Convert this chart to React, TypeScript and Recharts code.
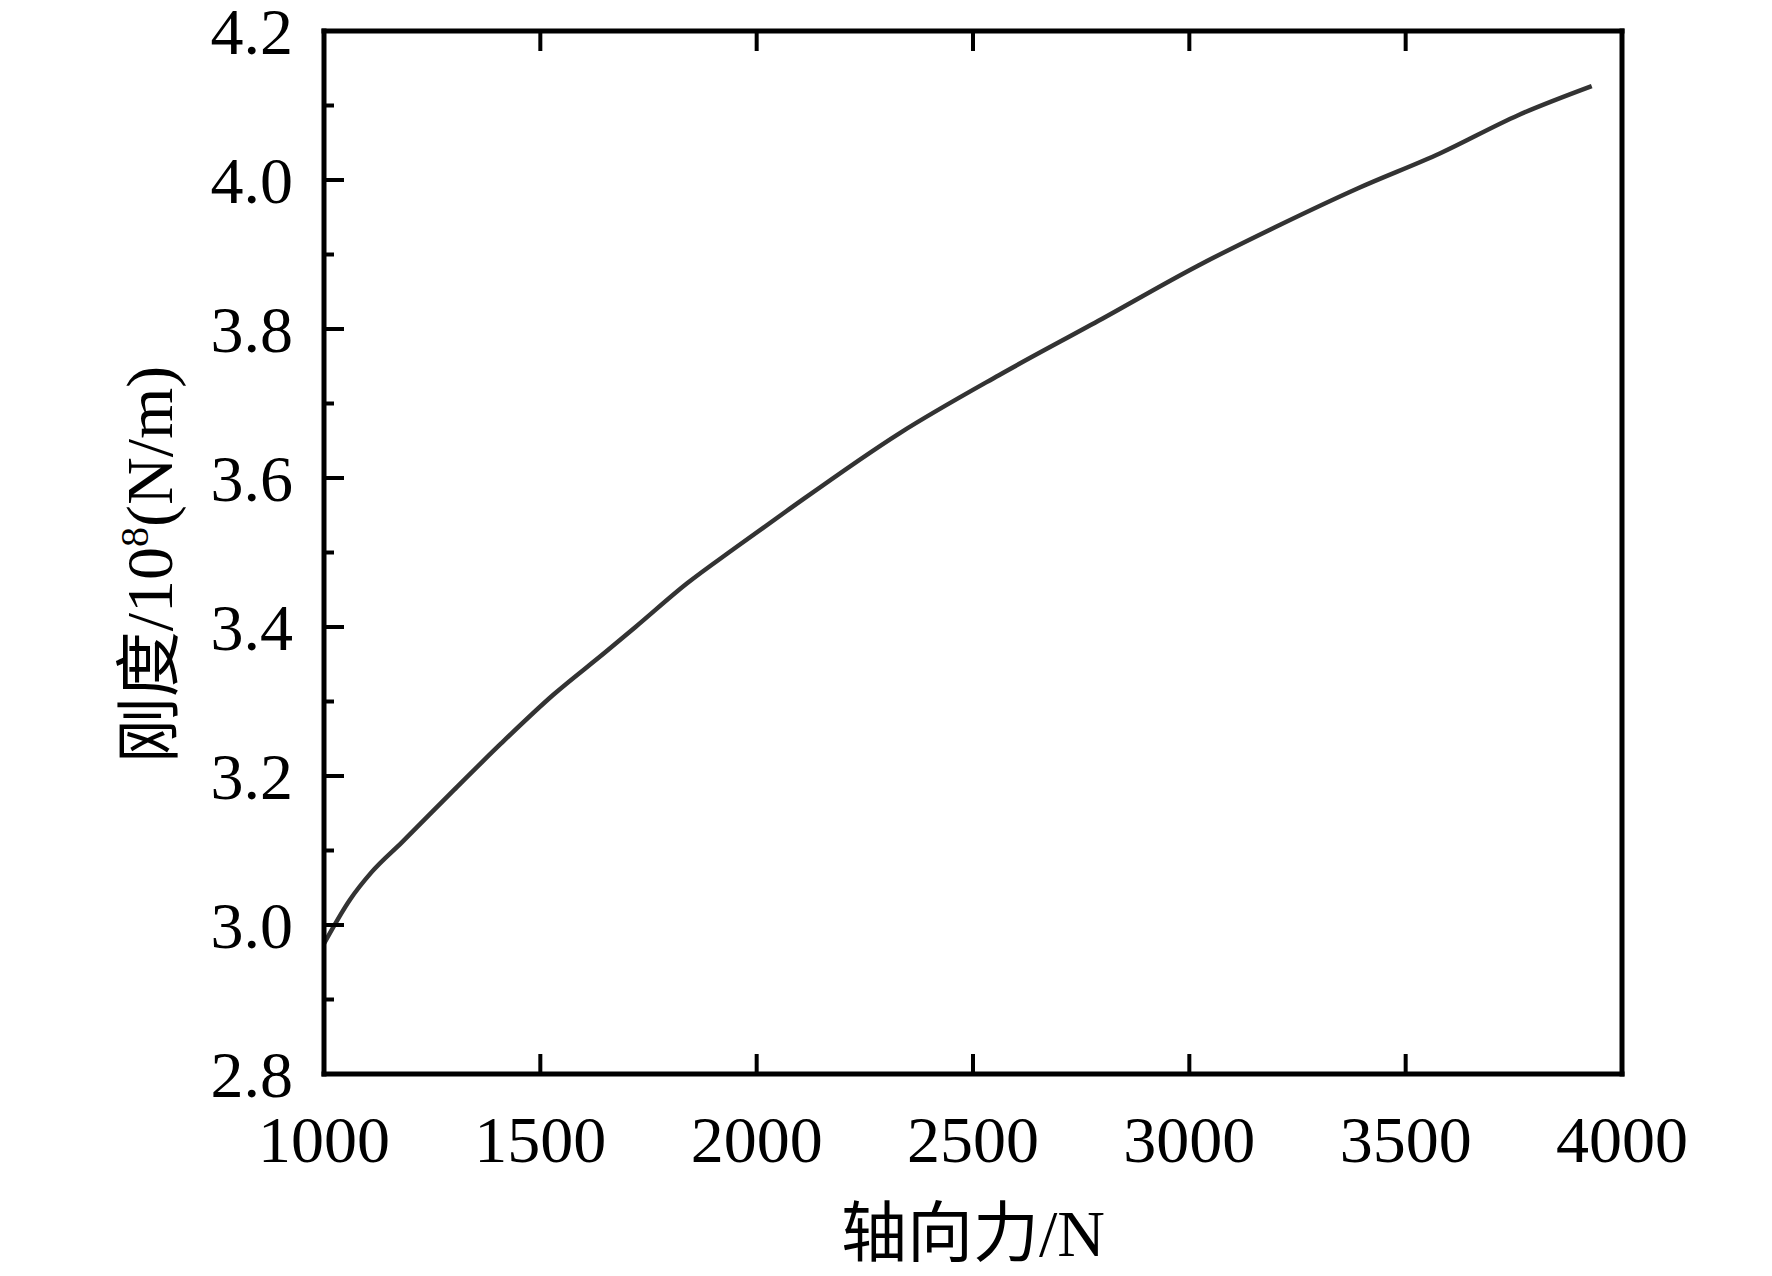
import { LineChart, Line, XAxis, YAxis } from "recharts";

// axial force (N) and stiffness (1e8 N/m)
const force = [1000, 1060, 1110, 1180, 1300, 1410, 1530, 1650, 1720, 1840, 1950, 2070, 2330, 2560, 2790, 3020, 3210, 3390, 3580, 3760, 3930];
const stiffness = [2.975, 3.034, 3.071, 3.111, 3.181, 3.244, 3.309, 3.366, 3.4, 3.459, 3.506, 3.556, 3.66, 3.738, 3.811, 3.885, 3.94, 3.989, 4.036, 4.087, 4.126];

const xTicks = [1000, 1500, 2000, 2500, 3000, 3500, 4000];
const yTicks = [2.8, 2.9, 3.0, 3.1, 3.2, 3.3, 3.4, 3.5, 3.6, 3.7, 3.8, 3.9, 4.0, 4.1, 4.2];

const data = force.map((f, i) => ({ force: f, k: stiffness[i] }));

const FONT = "'Liberation Serif', 'Times New Roman', 'Noto Sans CJK SC', serif";
const FS = 66;
const MAJOR = 20;
const MINOR = 10;
const TICK_W = 4;
const isMajor = (v: number) => Math.round(v * 10) % 2 === 0;

const LeftTick = ({ x, y, payload }: any) => {
  const axisX = x + 31;
  const major = isMajor(payload.value);
  return (
    <g>
      <line x1={axisX} x2={axisX + (major ? MAJOR : MINOR)} y1={y} y2={y} stroke="#000" strokeWidth={TICK_W} />
      {major && (
        <text x={x} y={y} dy="0.355em" textAnchor="end" fontFamily={FONT} fontSize={FS} fill="#000">
          {payload.value.toFixed(1)}
        </text>
      )}
    </g>
  );
};

const RightTick = ({ x, y, payload }: any) => (
  <line x1={x} x2={x - (isMajor(payload.value) ? MAJOR : MINOR)} y1={y} y2={y} stroke="#000" strokeWidth={TICK_W} />
);

const BottomTick = ({ x, y, payload }: any) => {
  const axisY = y - 41;
  return (
    <g>
      <line x1={x} x2={x} y1={axisY} y2={axisY - MAJOR} stroke="#000" strokeWidth={TICK_W} />
      <text x={x} y={y} dy="0.71em" textAnchor="middle" fontFamily={FONT} fontSize={FS} fill="#000">
        {payload.value}
      </text>
    </g>
  );
};

const TopTick = ({ x, y }: any) => (
  <line x1={x} x2={x} y1={y} y2={y + MAJOR} stroke="#000" strokeWidth={TICK_W} />
);

const XTitle = ({ viewBox }: any) => (
  <text x={viewBox.x + viewBox.width / 2} y={viewBox.y + 182} textAnchor="middle"
        fontFamily={FONT} fontSize={FS} fill="#000">
    轴向力/N
  </text>
);

const YTitle = ({ viewBox }: any) => {
  const cx = viewBox.x + viewBox.width - 152;
  const cy = viewBox.y + viewBox.height / 2 + 12;
  return (
    <text x={cx} y={cy} textAnchor="middle" transform={`rotate(-90, ${cx}, ${cy})`}
          fontFamily={FONT} fontSize={FS} fill="#000">
      刚度/10<tspan fontSize={40} dy={-24}>8</tspan><tspan dy={24}>(N/m)</tspan>
    </text>
  );
};

const axisLine = { stroke: "#000", strokeWidth: 5, strokeLinecap: "square" as const };

export default function App() {
  return (
    <div style={{ position: "absolute", left: 0, top: 0, background: "#fff" }}>
      <LineChart width={1772} height={1276} data={data} margin={{ top: 30, right: 149, left: 0, bottom: 0 }}>
        <XAxis dataKey="force" type="number" domain={[1000, 4000]} ticks={xTicks} interval={0}
               height={202} tickSize={0} tickMargin={41} tickLine={false} axisLine={axisLine}
               tick={<BottomTick />} label={{ content: <XTitle /> }} />
        <XAxis xAxisId="top" orientation="top" dataKey="force" type="number" domain={[1000, 4000]}
               ticks={xTicks} interval={0} height={1} tickSize={0} tickMargin={0} tickLine={false}
               axisLine={axisLine} tick={<TopTick />} />
        <YAxis type="number" domain={[2.8, 4.2]} ticks={yTicks} interval={0} width={324}
               tickSize={0} tickMargin={31} tickLine={false} axisLine={axisLine}
               tick={<LeftTick />} label={{ content: <YTitle /> }} />
        <YAxis yAxisId="right" orientation="right" type="number" domain={[2.8, 4.2]} ticks={yTicks}
               interval={0} width={1} tickSize={0} tickMargin={0} tickLine={false}
               axisLine={axisLine} tick={<RightTick />} />
        <Line type="monotone" dataKey="k" stroke="#333333" strokeWidth={4.5} dot={false}
              isAnimationActive={false} />
      </LineChart>
    </div>
  );
}
